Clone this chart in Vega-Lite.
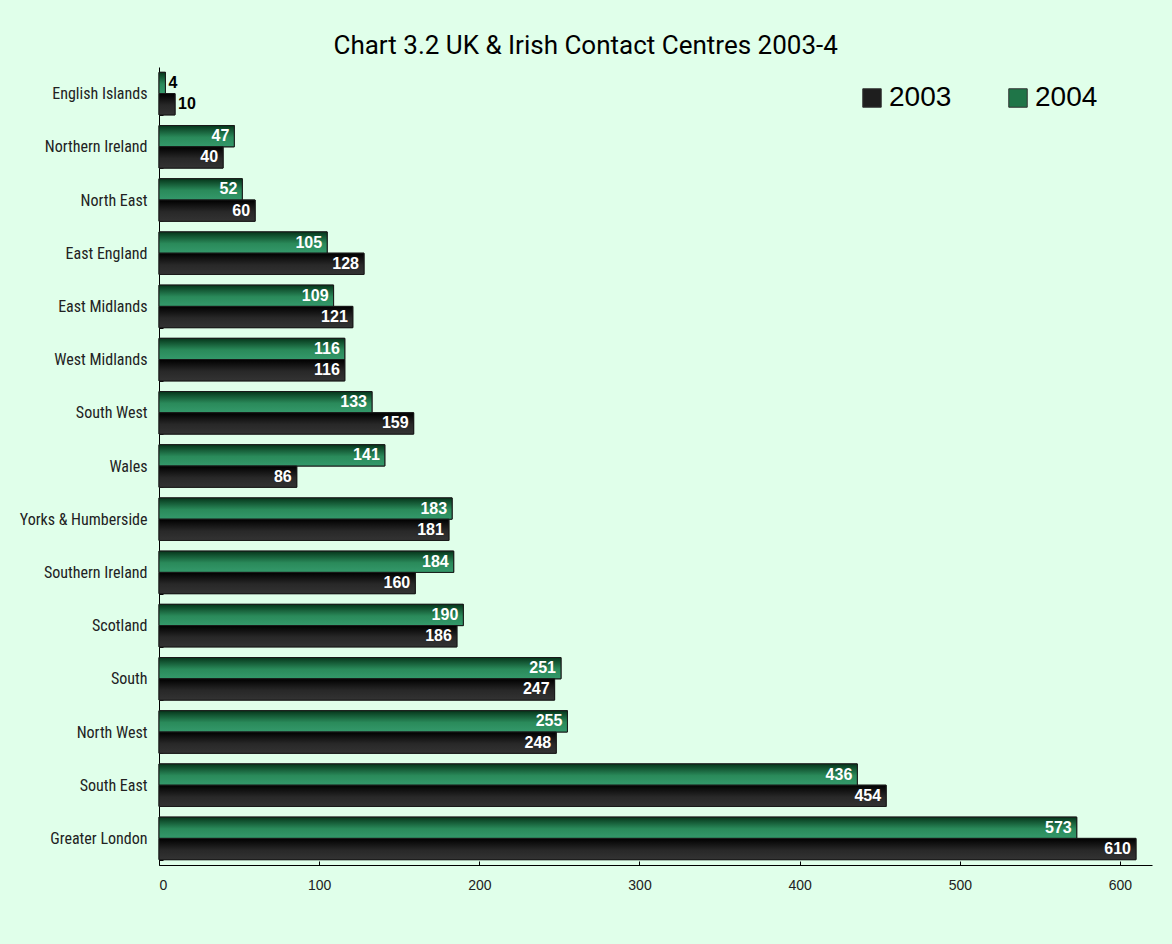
{
  "$schema": "https://vega.github.io/schema/vega-lite/v6.json",
  "width": 993,
  "height": 798,
  "autosize": {"type": "none"},
  "padding": {"left": 159, "top": 67, "right": 20, "bottom": 79},
  "background": "#e0ffea",
  "title": {
    "text": "Chart 3.2 UK & Irish Contact Centres 2003-4",
    "anchor": "middle",
    "frame": "bounds",
    "font": "Roboto",
    "fontSize": 26,
    "fontWeight": "normal",
    "color": "#000000",
    "baseline": "alphabetic",
    "offset": -21
  },
  "config": {
    "view": {"stroke": null},
    "axis": {"grid": false, "domainColor": "#000000", "tickColor": "#000000", "labelColor": "#222222"}
  },
  "data": {
    "values": [
      {"region": "English Islands", "year": "2004", "value": 4},
      {"region": "English Islands", "year": "2003", "value": 10},
      {"region": "Northern Ireland", "year": "2004", "value": 47},
      {"region": "Northern Ireland", "year": "2003", "value": 40},
      {"region": "North East", "year": "2004", "value": 52},
      {"region": "North East", "year": "2003", "value": 60},
      {"region": "East England", "year": "2004", "value": 105},
      {"region": "East England", "year": "2003", "value": 128},
      {"region": "East Midlands", "year": "2004", "value": 109},
      {"region": "East Midlands", "year": "2003", "value": 121},
      {"region": "West Midlands", "year": "2004", "value": 116},
      {"region": "West Midlands", "year": "2003", "value": 116},
      {"region": "South West", "year": "2004", "value": 133},
      {"region": "South West", "year": "2003", "value": 159},
      {"region": "Wales", "year": "2004", "value": 141},
      {"region": "Wales", "year": "2003", "value": 86},
      {"region": "Yorks & Humberside", "year": "2004", "value": 183},
      {"region": "Yorks & Humberside", "year": "2003", "value": 181},
      {"region": "Southern Ireland", "year": "2004", "value": 184},
      {"region": "Southern Ireland", "year": "2003", "value": 160},
      {"region": "Scotland", "year": "2004", "value": 190},
      {"region": "Scotland", "year": "2003", "value": 186},
      {"region": "South", "year": "2004", "value": 251},
      {"region": "South", "year": "2003", "value": 247},
      {"region": "North West", "year": "2004", "value": 255},
      {"region": "North West", "year": "2003", "value": 248},
      {"region": "South East", "year": "2004", "value": 436},
      {"region": "South East", "year": "2003", "value": 454},
      {"region": "Greater London", "year": "2004", "value": 573},
      {"region": "Greater London", "year": "2003", "value": 610}
    ]
  },
  "encoding": {
    "y": {
      "field": "region",
      "type": "nominal",
      "sort": null,
      "scale": {"paddingInner": 0.2, "paddingOuter": 0.1},
      "axis": {
        "title": null,
        "tickBand": "extent",
        "tickSize": -4,
        "labelPadding": 16,
        "labelFont": "Roboto Condensed, Roboto",
        "labelFontSize": 16,
        "labelLimit": 200
      }
    },
    "yOffset": {"field": "year", "type": "nominal", "sort": ["2004", "2003"]},
    "x": {
      "field": "value",
      "type": "quantitative",
      "scale": {"domain": [0, 620], "nice": false},
      "axis": {
        "title": null,
        "values": [0, 100, 200, 300, 400, 500, 600],
        "tickSize": -4,
        "labelPadding": 17,
        "labelFont": "Liberation Sans",
        "labelFontSize": 14
      }
    }
  },
  "layer": [
    {
      "mark": {"type": "bar", "stroke": "#1a1a1a", "strokeWidth": 1},
      "encoding": {
        "color": {
          "field": "year",
          "type": "nominal",
          "scale": {"domain": ["2003", "2004"], "range": ["#1e1e1e", "#1f7548"]},
          "legend": {
            "title": null,
            "orient": "none",
            "legendX": 699,
            "legendY": 17,
            "direction": "horizontal",
            "padding": 0,
            "symbolType": "square",
            "symbolSize": 340,
            "symbolStrokeColor": "#333333",
            "symbolStrokeWidth": 1,
            "symbolOpacity": 1,
            "labelFont": "Liberation Sans",
            "labelFontSize": 28,
            "labelColor": "#000000",
            "labelOffset": 3,
            "columnPadding": 52
          }
        }
      }
    },
    {
      "mark": {"type": "bar", "stroke": "#1a1a1a", "strokeWidth": 1},
      "encoding": {
        "color": {
          "condition": {
            "test": "datum.year == '2003'",
            "value": {"gradient": "linear", "x1": 0, "y1": 0, "x2": 0, "y2": 1, "stops": [{"offset": 0, "color": "#000000"}, {"offset": 0.55, "color": "#282828"}, {"offset": 1, "color": "#333333"}]}
          },
          "value": {"gradient": "linear", "x1": 0, "y1": 0, "x2": 0, "y2": 1, "stops": [{"offset": 0, "color": "#05351a"}, {"offset": 0.55, "color": "#2a8a5a"}, {"offset": 1, "color": "#34996b"}]}
        }
      }
    },
    {
      "transform": [{"filter": "datum.value >= 20"}],
      "mark": {"type": "text", "align": "right", "baseline": "middle", "dx": -5, "color": "#ffffff", "font": "Liberation Sans", "fontWeight": "bold", "fontSize": 16},
      "encoding": {"text": {"field": "value", "type": "quantitative"}}
    },
    {
      "transform": [{"filter": "datum.value < 20"}],
      "mark": {"type": "text", "align": "left", "baseline": "middle", "dx": 3, "color": "#000000", "font": "Liberation Sans", "fontWeight": "bold", "fontSize": 16},
      "encoding": {"text": {"field": "value", "type": "quantitative"}}
    }
  ]
}
